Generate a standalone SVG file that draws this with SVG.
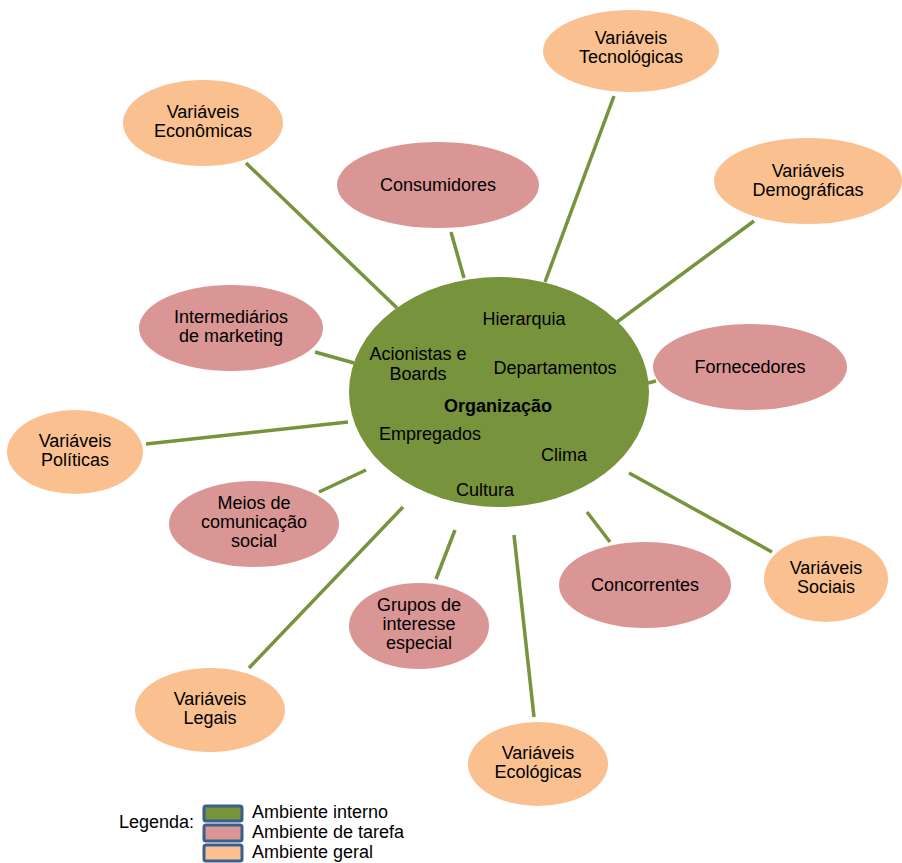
<svg xmlns="http://www.w3.org/2000/svg" width="902" height="863" viewBox="0 0 902 863">
<style>
text{font-family:"Liberation Sans",Arial,sans-serif;font-size:18px;fill:#000;text-anchor:middle}
.g{fill:#FAC090}
.t{fill:#D99694}
.i{fill:#77933C}
.c line{stroke:#77933C;stroke-width:3.5}
.lg rect{stroke:#3A5F8B;stroke-width:3}
.lt{text-anchor:start}
</style>
<rect width="902" height="863" fill="#fff"/>
<g class="c" id="connectors">
<line x1="246" y1="163" x2="397" y2="308"/>
<line x1="451" y1="232" x2="464" y2="278"/>
<line x1="614" y1="96" x2="545" y2="282"/>
<line x1="754" y1="221" x2="617" y2="322"/>
<line x1="315" y1="352" x2="354" y2="363"/>
<line x1="648" y1="383" x2="656" y2="381"/>
<line x1="146" y1="444" x2="348" y2="422"/>
<line x1="319" y1="492" x2="366" y2="470"/>
<line x1="249" y1="668" x2="403" y2="507"/>
<line x1="436" y1="579" x2="455" y2="530"/>
<line x1="534" y1="717" x2="514" y2="535"/>
<line x1="610" y1="542" x2="587" y2="512"/>
<line x1="772" y1="552" x2="629" y2="473"/>
</g>
<g id="org">
<ellipse class="i" cx="499" cy="392" rx="150" ry="115"/>
<text x="524" y="325">Hierarquia</text>
<text x="418" y="360">Acionistas e</text>
<text x="418" y="380">Boards</text>
<text x="555" y="374">Departamentos</text>
<text x="498" y="412" font-weight="bold">Organização</text>
<text x="430" y="440">Empregados</text>
<text x="564" y="461">Clima</text>
<text x="485" y="496">Cultura</text>
</g>
<g id="tecnologicas"><ellipse class="g" cx="631" cy="51" rx="88" ry="41"/><text x="631" y="44">Variáveis</text><text x="631" y="63">Tecnológicas</text></g>
<g id="economicas"><ellipse class="g" cx="203" cy="123" rx="80" ry="43"/><text x="203" y="118">Variáveis</text><text x="203" y="137">Econômicas</text></g>
<g id="demograficas"><ellipse class="g" cx="808" cy="181" rx="94" ry="43"/><text x="808" y="177">Variáveis</text><text x="808" y="196">Demográficas</text></g>
<g id="politicas"><ellipse class="g" cx="75" cy="452" rx="68" ry="42"/><text x="75" y="447">Variáveis</text><text x="75" y="466">Políticas</text></g>
<g id="sociais"><ellipse class="g" cx="826" cy="579" rx="62" ry="43"/><text x="826" y="574">Variáveis</text><text x="826" y="593">Sociais</text></g>
<g id="legais"><ellipse class="g" cx="210" cy="710" rx="75" ry="42"/><text x="210" y="705">Variáveis</text><text x="210" y="724">Legais</text></g>
<g id="ecologicas"><ellipse class="g" cx="538" cy="764" rx="70" ry="42"/><text x="538" y="759">Variáveis</text><text x="538" y="778">Ecológicas</text></g>
<g id="consumidores"><ellipse class="t" cx="438" cy="185" rx="101" ry="43"/><text x="438" y="191">Consumidores</text></g>
<g id="intermediarios"><ellipse class="t" cx="231" cy="328" rx="92" ry="43"/><text x="231" y="323">Intermediários</text><text x="231" y="342">de marketing</text></g>
<g id="fornecedores"><ellipse class="t" cx="750" cy="367" rx="97" ry="43"/><text x="750" y="373">Fornecedores</text></g>
<g id="meios"><ellipse class="t" cx="254" cy="524" rx="85" ry="43"/><text x="254" y="509">Meios de</text><text x="254" y="528">comunicação</text><text x="254" y="547">social</text></g>
<g id="grupos"><ellipse class="t" cx="419" cy="626" rx="70" ry="43"/><text x="419" y="611">Grupos de</text><text x="419" y="630">interesse</text><text x="419" y="649">especial</text></g>
<g id="concorrentes"><ellipse class="t" cx="645" cy="585" rx="86" ry="43"/><text x="645" y="591">Concorrentes</text></g>
<g id="legend" class="lg">
<text class="lt" x="119" y="828">Legenda:</text>
<rect class="i" x="204" y="806" width="38" height="15" rx="2"/>
<rect class="t" x="204" y="825" width="38" height="16" rx="2"/>
<rect class="g" x="204" y="845" width="38" height="16" rx="2"/>
<text class="lt" x="252" y="818">Ambiente interno</text>
<text class="lt" x="252" y="838">Ambiente de tarefa</text>
<text class="lt" x="252" y="858">Ambiente geral</text>
</g>
</svg>
